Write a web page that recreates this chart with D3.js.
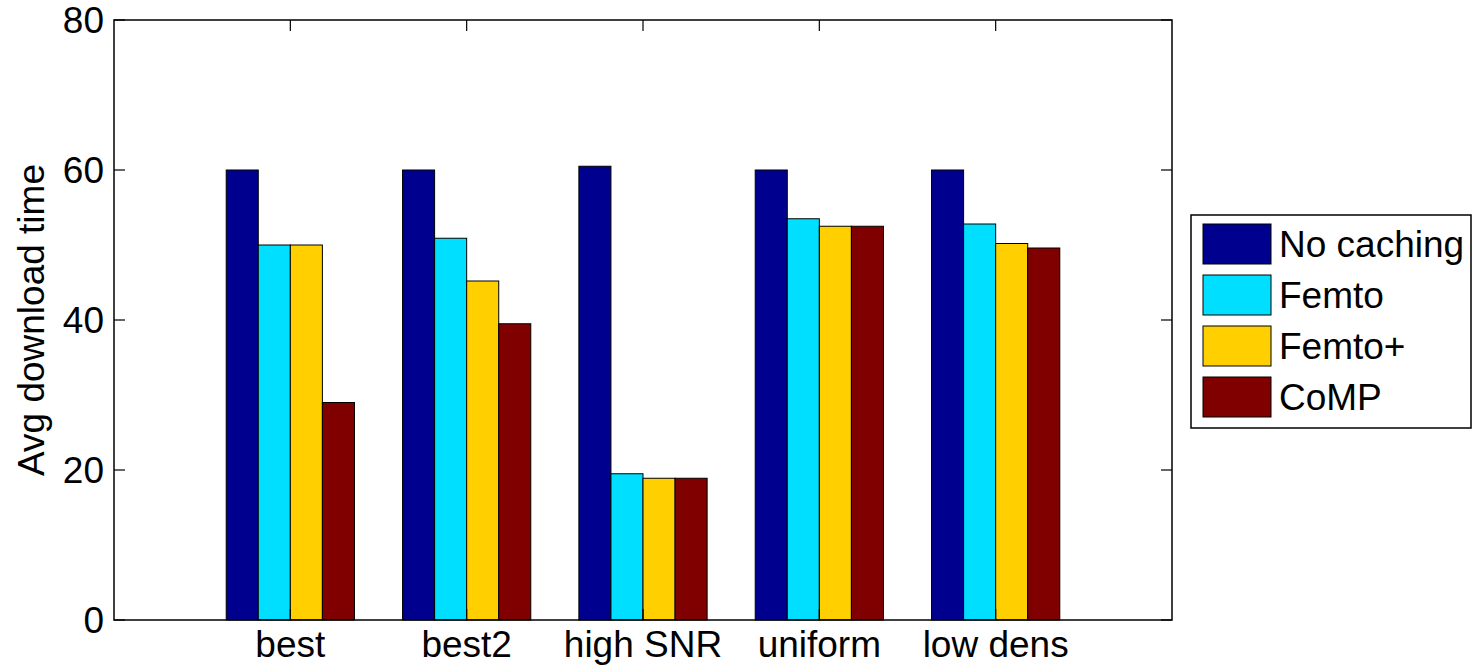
<!DOCTYPE html>
<html>
<head>
<meta charset="utf-8">
<script src="https://cdn.jsdelivr.net/npm/d3@7"></script>
<style>
  body { margin: 0; background: #fff; }
  text { font-family: "Liberation Sans", Arial, sans-serif; fill: #000; }
</style>
</head>
<body>
<script>
// data
const categories = ["best", "best2", "high SNR", "uniform", "low dens"];
const seriesNames = ["No caching", "Femto", "Femto+", "CoMP"];
const noCaching = [60, 60, 60.5, 60, 60];
const femto = [50, 50.9, 19.5, 53.5, 52.8];
const femtoPlus = [50, 45.2, 18.9, 52.5, 50.2];
const comp = [29, 39.5, 18.9, 52.5, 49.6];
const yTicks = [0, 20, 40, 60, 80];
const colors = ["#00008f", "#00dfff", "#ffcf00", "#800000"];

const series = [noCaching, femto, femtoPlus, comp];

const width = 1474, height = 670;
const plotL = 114, plotR = 1172, plotT = 20, plotB = 620;
const fs = 37;

const svg = d3.select("body").append("svg")
    .attr("width", width)
    .attr("height", height);

const x = d3.scaleLinear().domain([0, categories.length + 1]).range([plotL, plotR]);
const y = d3.scaleLinear().domain([0, 80]).range([plotB, plotT]);

// matlab style grouped bars: group width n/(n+1.5)
const n = series.length;
const groupW = n / (n + 1.5);
const barW = groupW / n;

const bars = svg.append("g");
series.forEach((vals, j) => {
    bars.selectAll(null)
        .data(vals)
        .enter().append("rect")
        .attr("x", (d, i) => x(i + 1 - groupW / 2 + j * barW))
        .attr("width", x(barW) - x(0))
        .attr("y", d => y(d))
        .attr("height", d => y(0) - y(d))
        .attr("fill", colors[j])
        .attr("stroke", "#000")
        .attr("stroke-width", 1);
});

// box
svg.append("rect")
    .attr("x", plotL).attr("y", plotT)
    .attr("width", plotR - plotL).attr("height", plotB - plotT)
    .attr("fill", "none").attr("stroke", "#000").attr("stroke-width", 1.5);

const tickLen = 11;
const ticks = svg.append("g").attr("stroke", "#000").attr("stroke-width", 1.2);
yTicks.forEach(t => {
    ticks.append("line").attr("x1", plotL).attr("x2", plotL + tickLen).attr("y1", y(t)).attr("y2", y(t));
    ticks.append("line").attr("x1", plotR).attr("x2", plotR - tickLen).attr("y1", y(t)).attr("y2", y(t));
});
categories.forEach((c, i) => {
    ticks.append("line").attr("x1", x(i + 1)).attr("x2", x(i + 1)).attr("y1", plotT).attr("y2", plotT + tickLen);
    ticks.append("line").attr("x1", x(i + 1)).attr("x2", x(i + 1)).attr("y1", plotB).attr("y2", plotB - tickLen);
});

// tick labels
svg.append("g").selectAll("text")
    .data(yTicks)
    .enter().append("text")
    .attr("x", plotL - 10)
    .attr("y", d => y(d))
    .attr("dy", "0.35em")
    .attr("text-anchor", "end")
    .attr("font-size", fs)
    .text(d => d);

svg.append("g").selectAll("text")
    .data(categories)
    .enter().append("text")
    .attr("x", (d, i) => x(i + 1))
    .attr("y", 657)
    .attr("text-anchor", "middle")
    .attr("font-size", fs)
    .text(d => d);

svg.append("text")
    .attr("transform", `translate(44,${(plotT + plotB) / 2}) rotate(-90)`)
    .attr("text-anchor", "middle")
    .attr("font-size", fs)
    .text("Avg download time");

// legend
const lg = svg.append("g");
lg.append("rect")
    .attr("x", 1191).attr("y", 215)
    .attr("width", 280).attr("height", 213)
    .attr("fill", "#fff").attr("stroke", "#000").attr("stroke-width", 1.5);
seriesNames.forEach((name, j) => {
    const yy = 224 + j * 51;
    lg.append("rect")
        .attr("x", 1203).attr("y", yy)
        .attr("width", 68).attr("height", 40)
        .attr("fill", colors[j]).attr("stroke", "#000").attr("stroke-width", 1);
    lg.append("text")
        .attr("x", 1279).attr("y", yy + 20)
        .attr("dy", "0.35em")
        .attr("font-size", fs)
        .text(name);
});
</script>
</body>
</html>
